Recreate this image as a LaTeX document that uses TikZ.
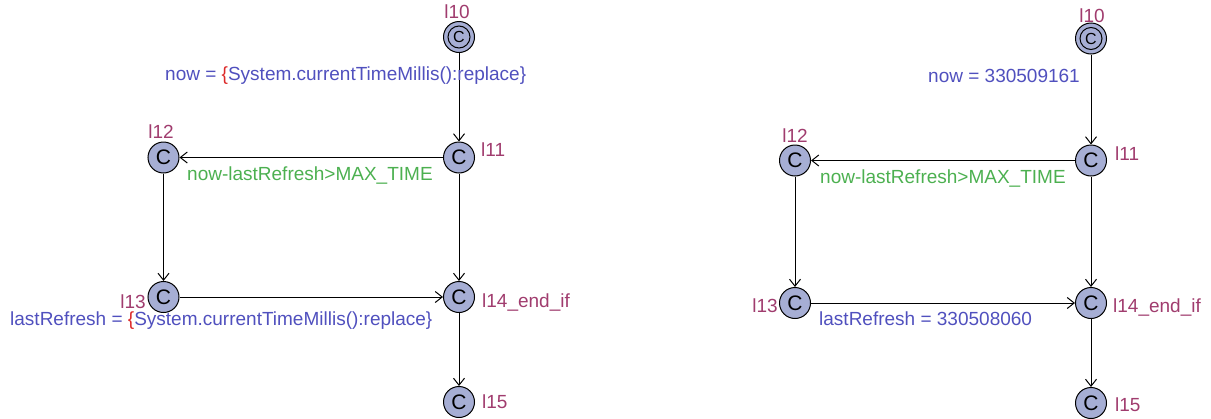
\documentclass[tikz,border=0pt]{standalone}
\usepackage{fontspec}
\setmainfont{Liberation Sans}
\usetikzlibrary{arrows.meta}
\definecolor{locfill}{RGB}{166,174,212}
\definecolor{loclab}{RGB}{160,60,110}
\definecolor{asgn}{RGB}{80,80,190}
\definecolor{grd}{RGB}{76,176,80}
\definecolor{brc}{RGB}{220,40,40}
\begin{document}
\begin{tikzpicture}[x=1pt,y=-1pt,
  txt/.style={font=\fontsize{19}{22}\selectfont, inner sep=0pt},
  loc/.style={circle, draw=black, fill=locfill, line width=1pt, minimum size=31pt, inner sep=0pt, font=\fontsize{21}{24}\selectfont},
  initloc/.style={loc, font=\fontsize{16}{18}\selectfont},
  lab/.style={txt, text=loclab},
  upd/.style={txt, text=asgn},
  grdlab/.style={txt, text=grd},
  edge/.style={draw, line width=1pt, -{Straight Barb[length=7pt,width=11pt,line width=1pt]}}]
\useasboundingbox (0,0) rectangle (1211,418);
% ---------- left ----------
\node[initloc] (a10) at (459,37) {C};
\draw[line width=1pt] (a10.center) circle (11);
\node[loc] (a11) at (459,157.5) {C};
\node[loc] (a12) at (163.5,157.5) {C};
\node[loc] (a13) at (163.5,297) {C};
\node[loc] (a14) at (459,297) {C};
\node[loc] (a15) at (459,402) {C};
\node[lab, anchor=base] (la10) at (457,18) {l10};
\node[lab, anchor=base west] (la11) at (481,156) {l11};
\node[lab, anchor=base] (la12) at (161,138) {l12};
\node[lab, anchor=base east] (la13) at (146,308) {l13};
\node[lab, anchor=base west] (la14) at (482,307) {l14\_end\_if};
\node[lab, anchor=base west] (la15) at (482,408) {l15};
\draw[edge] (a10) -- (a11);
\draw[edge] (a11) -- (a12);
\draw[edge] (a12) -- (a13);
\draw[edge] (a13) -- (a14);
\draw[edge] (a11) -- (a14);
\draw[edge] (a14) -- (a15);
\node[upd, anchor=base west] (ua1) at (165,80) {now = \textcolor{brc}{\{}System.currentTimeMillis():replace\}};
\node[grdlab, anchor=base west] (ga1) at (187,180) {now-lastRefresh>MAX\_TIME};
\node[upd, anchor=base west] (ua2) at (10,325) {lastRefresh = \textcolor{brc}{\{}System.currentTimeMillis():replace\}};
% ---------- right ----------
\node[initloc] (b10) at (1091,38.5) {C};
\draw[line width=1pt] (b10.center) circle (11);
\node[loc] (b11) at (1091,160.5) {C};
\node[loc] (b12) at (795,160.5) {C};
\node[loc] (b13) at (795,303) {C};
\node[loc] (b14) at (1091,303) {C};
\node[loc] (b15) at (1091,403) {C};
\node[lab, anchor=base] (lb10) at (1092,22) {l10};
\node[lab, anchor=base west] (lb11) at (1115,160) {l11};
\node[lab, anchor=base] (lb12) at (795,142) {l12};
\node[lab, anchor=base east] (lb13) at (778,312) {l13};
\node[lab, anchor=base west] (lb14) at (1113,312) {l14\_end\_if};
\node[lab, anchor=base west] (lb15) at (1115,411) {l15};
\draw[edge] (b10) -- (b11);
\draw[edge] (b11) -- (b12);
\draw[edge] (b12) -- (b13);
\draw[edge] (b13) -- (b14);
\draw[edge] (b11) -- (b14);
\draw[edge] (b14) -- (b15);
\node[upd, anchor=base west] (ub1) at (928,82) {now = 330509161};
\node[grdlab, anchor=base west] (gb1) at (820,183) {now-lastRefresh>MAX\_TIME};
\node[upd, anchor=base west] (ub2) at (819,325) {lastRefresh = 330508060};
\end{tikzpicture}
\end{document}
